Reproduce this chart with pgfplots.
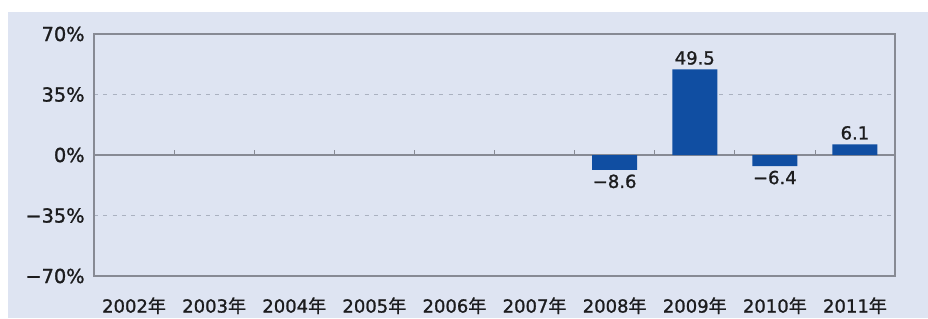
\documentclass[border=0pt]{standalone}
\usepackage{pgfplots}
\usepackage{pgfplotstable}
\pgfplotsset{compat=1.18}
\usepackage{fontspec}
\setmainfont{DejaVu Sans}
\newfontfamily\lab{DejaVu Sans}[FakeBold=1.2]
\newfontfamily\cjk{Noto Sans CJK JP}[FakeBold=1.2]
\definecolor{bg}{RGB}{222,228,242}
\definecolor{barc}{RGB}{16,78,162}
\definecolor{framec}{RGB}{135,138,148}
\definecolor{gridc}{RGB}{170,177,192}
\definecolor{txt}{RGB}{28,28,30}
\pgfplotstableread{
x y label
7 49.5 {49.5}
9 6.1 {6.1}
}\postable
\pgfplotstableread{
x y label
6 -8.6 {−8.6}
8 -6.4 {−6.4}
}\negtable
\begin{document}
\begin{tikzpicture}
\path[use as bounding box] (-70.5pt,-31.5pt) rectangle (625.5pt,207pt);
\fill[bg] (-64.5pt,-31.5pt) rectangle (625.5pt,198pt);
\begin{axis}[
  at={(0pt,0pt)}, anchor=south west,
  scale only axis, width=600.75pt, height=181.5pt,
  xmin=-0.5, xmax=9.5, ymin=-70, ymax=70,
  axis background/.style={fill=bg},
  axis line style={framec, line width=0.8pt},
  xtick={0,...,9},
  xticklabels={2002{\cjk 年},2003{\cjk 年},2004{\cjk 年},2005{\cjk 年},2006{\cjk 年},2007{\cjk 年},2008{\cjk 年},2009{\cjk 年},2010{\cjk 年},2011{\cjk 年}},
  ytick={-70,-35,0,35,70},
  yticklabels={−70\%,−35\%,0\%,35\%,70\%},
  major tick length=0pt,
  ymajorgrids,
  grid style={gridc, dash pattern=on 3pt off 4pt, line width=0.7pt},
  xticklabel style={font=\lab\fontsize{13.5}{16}\selectfont, text=txt, yshift=-12.5pt},
  yticklabel style={font=\lab\fontsize{14.5}{17}\selectfont, text=txt, xshift=-3.5pt},
]
\addplot[sharp plot, framec, line width=0.8pt, no marks, forget plot] coordinates {(-0.5,0) (9.5,0)};
\pgfplotsinvokeforeach{0.5,1.5,2.5,3.5,4.5,5.5,6.5,7.5,8.5}{
  \draw[framec, line width=0.6pt] (axis cs:#1,0) -- (axis cs:#1,3);
}
\addplot[ybar, bar width=33.75pt, fill=barc, draw=none,
  nodes near coords, point meta=explicit symbolic,
  every node near coord/.append style={font=\lab\fontsize{13.5}{16}\selectfont, text=txt, anchor=south}]
  table[x=x, y=y, meta=label] {\postable};
\addplot[ybar, bar width=33.75pt, fill=barc, draw=none,
  nodes near coords, point meta=explicit symbolic,
  every node near coord/.append style={font=\lab\fontsize{13.5}{16}\selectfont, text=txt, anchor=north}]
  table[x=x, y=y, meta=label] {\negtable};
\end{axis}
\end{tikzpicture}
\end{document}
